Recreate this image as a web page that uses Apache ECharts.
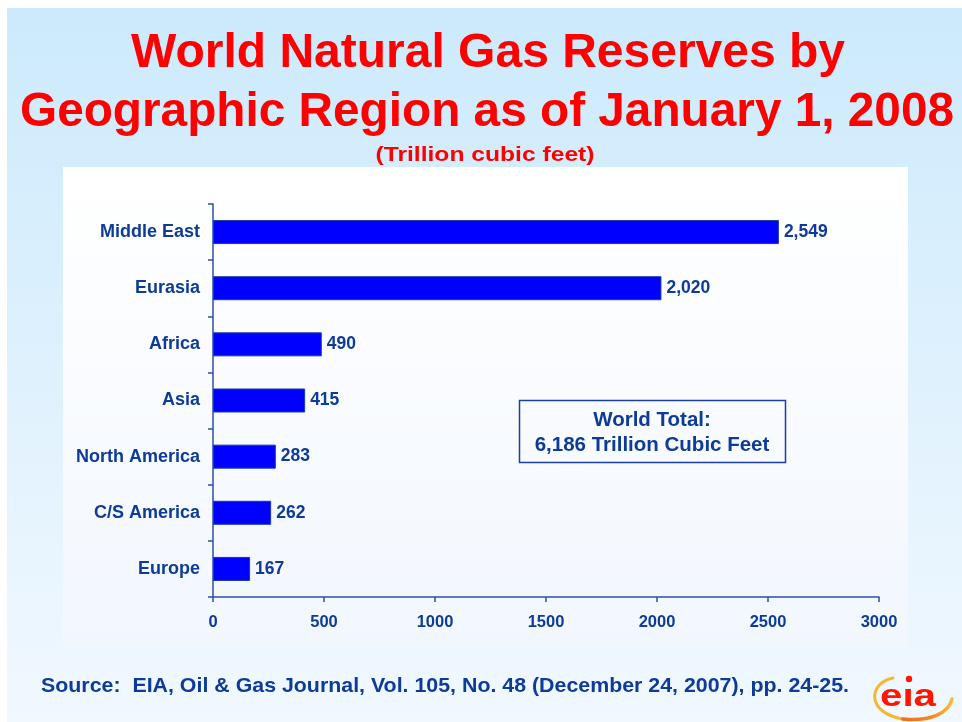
<!DOCTYPE html>
<html>
<head>
<meta charset="utf-8">
<script src="https://cdn.jsdelivr.net/npm/echarts@6/dist/echarts.min.js"></script>
<style>
  html, body { margin: 0; padding: 0; background: #ffffff; }
  #chart { width: 962px; height: 722px; }
</style>
</head>
<body>
<div id="chart"></div>
<script>
// World natural gas reserves by region, trillion cubic feet, 1 Jan 2008
const categories = ['Middle East', 'Eurasia', 'Africa', 'Asia', 'North America', 'C/S America', 'Europe'];
const reserves = [2549, 2020, 490, 415, 283, 262, 167];
const xTicks = [0, 500, 1000, 1500, 2000, 2500, 3000];
const worldTotal = 6186;

const titleLines = ['World Natural Gas Reserves by', 'Geographic Region as of January 1, 2008'];
const subtitle = '(Trillion cubic feet)';
const sourceNote = 'Source:  EIA, Oil & Gas Journal, Vol. 105, No. 48 (December 24, 2007), pp. 24-25.';

const FAMILY = '"Liberation Sans", Arial, Helvetica, sans-serif';
const NAVY = '#0D3B97';
const fmt = v => v.toLocaleString('en-US');

// Horizontal scale needed so a string spans a given width
const measureCtx = document.createElement('canvas').getContext('2d');
function fitScale(text, font, width) {
  measureCtx.font = font;
  return width / measureCtx.measureText(text).width;
}

function headText(text, size, cx, cy, width, color, align) {
  const font = 'bold ' + size + 'px ' + FAMILY;
  return {
    type: 'text', x: cx, y: cy, z: 20,
    scaleX: fitScale(text, font, width),
    style: { text: text, font: font, fill: color, align: align || 'center', verticalAlign: 'middle' }
  };
}

const swooshStroke = new echarts.graphic.LinearGradient(0, 0, 1, 0, [
  { offset: 0, color: '#F36A1E' },
  { offset: 0.6, color: '#F58A25' },
  { offset: 1, color: '#F7C23C' }
]);

const chart = echarts.init(document.getElementById('chart'), null, { renderer: 'canvas' });

const option = {
  animation: false,
  backgroundColor: '#ffffff',
  graphic: [
    // slide background
    {
      type: 'rect', z: -20, silent: true,
      shape: { x: 7, y: 8, width: 955, height: 714 },
      style: {
        fill: new echarts.graphic.LinearGradient(0, 0, 0, 1, [
          { offset: 0, color: '#CCEAFC' },
          { offset: 1, color: '#F1F8FF' }
        ])
      }
    },
    // chart panel
    {
      type: 'rect', z: -15, silent: true,
      shape: { x: 63, y: 167, width: 845, height: 481 },
      style: {
        fill: new echarts.graphic.LinearGradient(0, 0, 0, 1, [
          { offset: 0, color: '#FFFFFF' },
          { offset: 1, color: '#F2F7FE' }
        ])
      }
    },
    headText(titleLines[0], 48, 488, 54, 714, '#FF0000'),
    headText(titleLines[1], 48, 487, 112.5, 934, '#FF0000'),
    headText(subtitle, 21, 485, 155, 219, '#FF0000'),
    headText(sourceNote, 20.5, 41, 686.5, 808, NAVY, 'left'),
    // world total box
    {
      type: 'rect', z: 20,
      shape: { x: 519.5, y: 400.5, width: 266, height: 62 },
      style: { fill: 'rgba(0,0,0,0)', stroke: '#1C3FA0', lineWidth: 1.5 }
    },
    {
      type: 'text', x: 652, y: 420, z: 21,
      style: { text: 'World Total:', font: 'bold 20.5px ' + FAMILY, fill: NAVY, align: 'center', verticalAlign: 'middle' }
    },
    {
      type: 'text', x: 652, y: 445, z: 21,
      style: { text: fmt(worldTotal) + ' Trillion Cubic Feet', font: 'bold 20.5px ' + FAMILY, fill: NAVY, align: 'center', verticalAlign: 'middle' }
    },
    // eia logo
    {
      type: 'bezierCurve', z: 20,
      shape: { x1: 893, y1: 678, cpx1: 868, cpy1: 683, cpx2: 866, cpy2: 713, x2: 903, y2: 719 },
      style: { fill: null, lineWidth: 3, lineCap: 'round', stroke: '#F7B733' }
    },
    {
      type: 'bezierCurve', z: 20,
      shape: { x1: 903, y1: 719, cpx1: 930, cpy1: 722, cpx2: 949, cpy2: 713, x2: 952, y2: 699 },
      style: { fill: null, lineWidth: 3.5, lineCap: 'round', stroke: swooshStroke }
    },
    {
      type: 'text', x: 908, y: 697, z: 21,
      scaleX: 1.3,
      style: { text: 'e\u0131a', font: 'bold 31px ' + FAMILY, fill: '#FF1500', align: 'center', verticalAlign: 'middle' }
    },
    {
      type: 'circle', z: 21,
      shape: { cx: 909, cy: 679, r: 3.2 },
      style: { fill: '#FF1500' }
    }
  ],
  grid: { left: 213, right: 83, top: 204, bottom: 125, containLabel: false },
  xAxis: {
    type: 'value',
    min: xTicks[0],
    max: xTicks[xTicks.length - 1],
    interval: xTicks[1] - xTicks[0],
    axisLine: { show: true, lineStyle: { color: '#2C4FA8', width: 1.5 } },
    axisTick: { show: true, length: 5, lineStyle: { color: '#2C4FA8', width: 1.5 } },
    splitLine: { show: false },
    axisLabel: {
      margin: 17,
      color: NAVY,
      fontFamily: FAMILY,
      fontWeight: 'bold',
      fontSize: 16.5,
      formatter: v => String(v)
    }
  },
  yAxis: {
    type: 'category',
    data: categories,
    inverse: true,
    axisLine: { show: true, lineStyle: { color: '#2C4FA8', width: 1.5 } },
    axisTick: { show: true, length: 5, alignWithLabel: false, lineStyle: { color: '#2C4FA8', width: 1.5 } },
    axisLabel: {
      margin: 13,
      color: NAVY,
      fontFamily: FAMILY,
      fontWeight: 'bold',
      fontSize: 18
    }
  },
  series: [{
    type: 'bar',
    data: reserves,
    barWidth: 24,
    itemStyle: { color: '#0000FF', borderColor: '#1A3A9E', borderWidth: 1 },
    label: {
      show: true,
      position: 'right',
      distance: 5,
      color: NAVY,
      fontFamily: FAMILY,
      fontWeight: 'bold',
      fontSize: 17.5,
      formatter: p => fmt(p.value)
    }
  }]
};

chart.setOption(option);
</script>
</body>
</html>
